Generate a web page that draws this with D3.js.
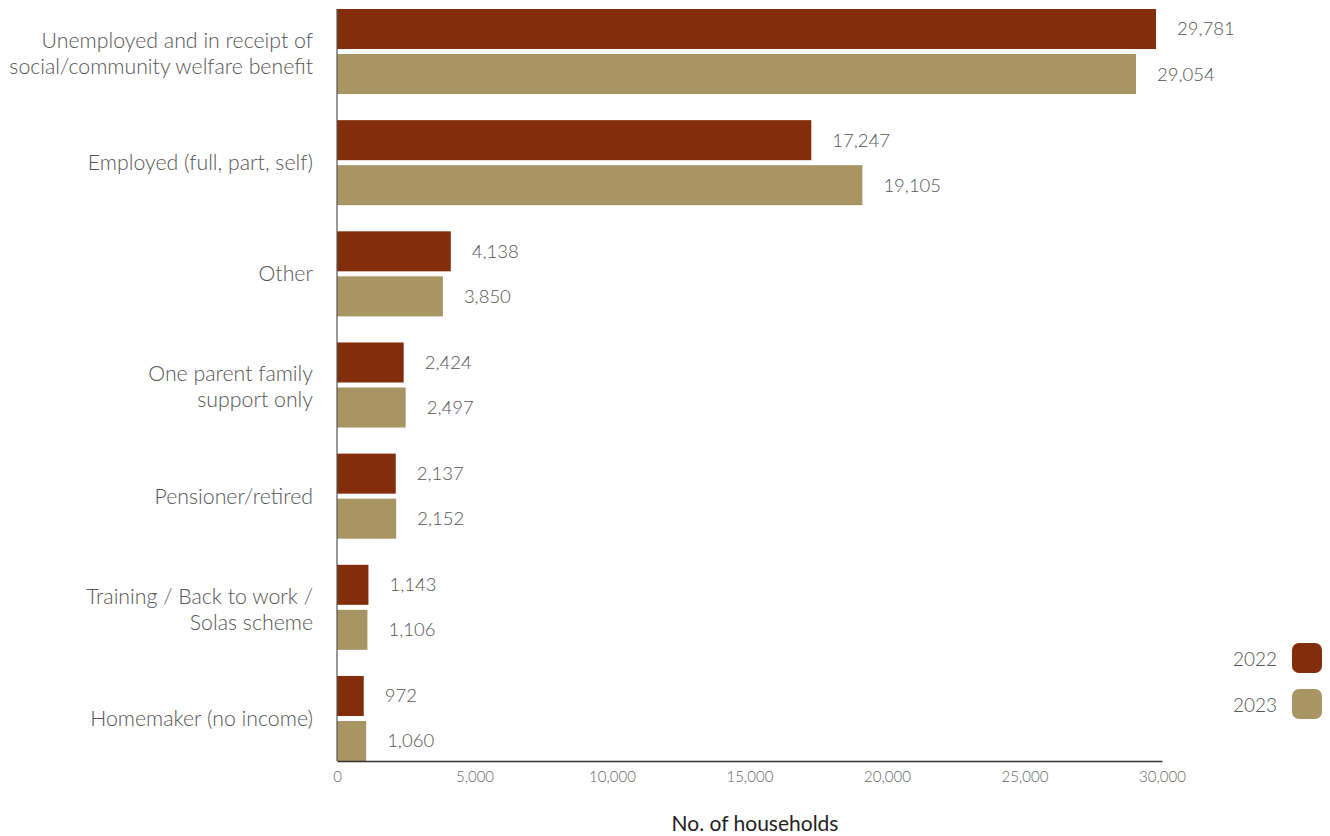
<!DOCTYPE html>
<html>
<head>
<meta charset="utf-8">
<script src="https://cdn.jsdelivr.net/npm/d3@7"></script>
<style>
  html, body { margin: 0; padding: 0; background: #fff; }
  svg { display: block; font-family: Lato, "Open Sans", sans-serif; }
</style>
</head>
<body>
<svg id="chart" width="1330" height="836"></svg>
<script>
// Households by principal source of income, 2022 vs 2023
const categories = [
  ["Unemployed and in receipt of", "social/community welfare benefit"],
  ["Employed (full, part, self)"],
  ["Other"],
  ["One parent family", "support only"],
  ["Pensioner/retired"],
  ["Training / Back to work /", "Solas scheme"],
  ["Homemaker (no income)"]
];
const years = ["2022", "2023"];
const values2022 = [29781, 17247, 4138, 2424, 2137, 1143, 972];
const values2023 = [29054, 19105, 3850, 2497, 2152, 1106, 1060];
const xTicks = [0, 5000, 10000, 15000, 20000, 25000, 30000];
const colors = ["#842d0a", "#a99563"];

const svg = d3.select("#chart");
const plotLeft = 337, plotRight = 1162, plotTop = 9, plotBottom = 761;

const x = d3.scaleLinear().domain([0, 30000]).range([plotLeft, plotRight]);
const y = d3.scaleBand().domain(d3.range(categories.length))
  .range([plotTop, plotBottom]).paddingInner(0.235).paddingOuter(0);
const ySub = d3.scaleBand().domain(years).range([0, y.bandwidth()]).paddingInner(0.111);
const color = d3.scaleOrdinal().domain(years).range(colors);
const fmt = d3.format(",");

const rows = categories.map((c, i) => ({
  i, label: c,
  vals: [{year: "2022", v: values2022[i]}, {year: "2023", v: values2023[i]}]
}));

const groups = svg.append("g").selectAll("g").data(rows).join("g")
  .attr("transform", d => `translate(0,${y(d.i)})`);

groups.selectAll("rect").data(d => d.vals).join("rect")
  .attr("x", x(0))
  .attr("y", d => ySub(d.year))
  .attr("width", d => x(d.v) - x(0))
  .attr("height", ySub.bandwidth())
  .attr("fill", d => color(d.year));

groups.selectAll("text.val").data(d => d.vals).join("text")
  .attr("class", "val")
  .attr("x", d => x(d.v) + 21)
  .attr("y", d => ySub(d.year) + ySub.bandwidth() / 2)
  .attr("dy", "0.35em")
  .attr("font-size", 18.5)
  .attr("font-weight", 300)
  .attr("fill", "#555")
  .text(d => fmt(d.v));

// Category labels
groups.append("text")
  .attr("text-anchor", "end")
  .attr("font-size", 21.3)
  .attr("font-weight", 300)
  .attr("fill", "#555")
  .each(function(d) {
    const t = d3.select(this);
    const lh = 26;
    const n = d.label.length;
    d.label.forEach((line, k) => {
      t.append("tspan")
        .attr("x", 313)
        .attr("y", y.bandwidth() / 2 + (n > 1 ? 2 : 0) + (k - (n - 1) / 2) * lh)
        .attr("dy", "0.35em")
        .text(line);
    });
  });

// Axes
const xAxis = d3.axisBottom(x).tickValues(xTicks).tickFormat(fmt).tickSize(0).tickPadding(10);
const gx = svg.append("g").attr("transform", `translate(0,${plotBottom})`).call(xAxis);
gx.select(".domain").attr("stroke", "#333").attr("stroke-width", 1.5);
gx.selectAll("text").attr("font-size", 15).attr("font-weight", 300).attr("fill", "#666")
  .attr("font-family", "Lato, sans-serif");

svg.append("line")
  .attr("x1", plotLeft).attr("x2", plotLeft)
  .attr("y1", plotTop).attr("y2", plotBottom)
  .attr("stroke", "#555").attr("stroke-width", 1.2);

svg.append("text")
  .attr("x", 755).attr("y", 831)
  .attr("text-anchor", "middle")
  .attr("font-size", 21)
  .attr("fill", "#222")
  .text("No. of households");

// Legend
const legend = svg.append("g").selectAll("g").data(years).join("g")
  .attr("transform", (d, i) => `translate(1292,${643 + i * 46})`);
legend.append("rect")
  .attr("width", 30).attr("height", 30).attr("rx", 7)
  .attr("fill", d => color(d));
legend.append("text")
  .attr("x", -15).attr("y", 16).attr("dy", "0.35em")
  .attr("text-anchor", "end")
  .attr("font-size", 19).attr("font-weight", 300).attr("fill", "#555")
  .text(d => d);
</script>
</body>
</html>
